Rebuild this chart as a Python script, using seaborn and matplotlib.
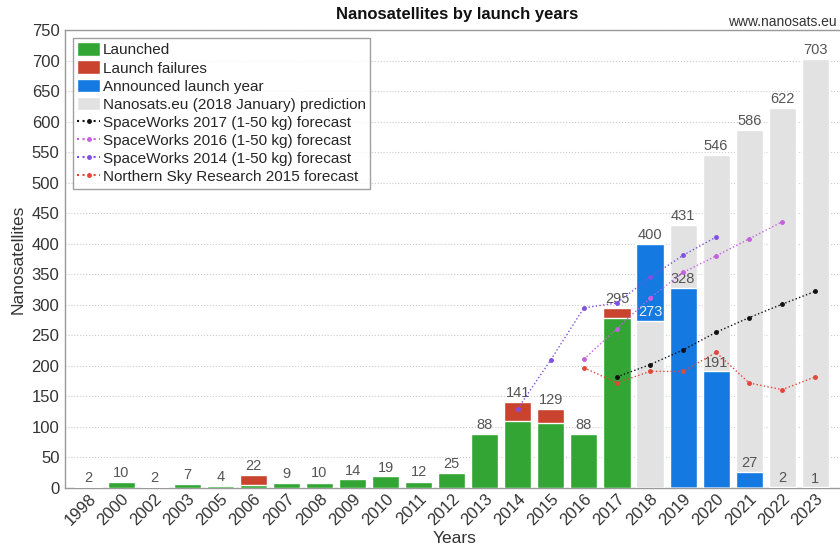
import numpy as np
import matplotlib
matplotlib.use("Agg")
import matplotlib.pyplot as plt
import seaborn as sns
from matplotlib.patches import Patch
from matplotlib.lines import Line2D

# ---- data ----
years = ['1998', '2000', '2002', '2003', '2005', '2006', '2007', '2008', '2009',
         '2010', '2011', '2012', '2013', '2014', '2015', '2016', '2017', '2018',
         '2019', '2020', '2021', '2022', '2023']
launched = [2, 10, 2, 7, 4, 5, 9, 8, 14, 19, 10, 25, 88, 110, 107, 88, 278,
            0, 0, 0, 0, 0, 0]
failures = [0, 0, 0, 0, 0, 17, 0, 2, 0, 0, 2, 0, 0, 31, 22, 0, 17,
            0, 0, 0, 0, 0, 0]
announced = [0] * 17 + [400, 328, 191, 27, 2, 1]
prediction = [0] * 17 + [273, 431, 546, 586, 622, 703]

sw2017_years = ['2017', '2018', '2019', '2020', '2021', '2022', '2023']
sw2017 = [182, 202, 226, 255, 279, 301, 322]
sw2016_years = ['2016', '2017', '2018', '2019', '2020', '2021', '2022']
sw2016 = [211, 261, 311, 353, 380, 408, 436]
sw2014_years = ['2014', '2015', '2016', '2017', '2018', '2019', '2020']
sw2014 = [130, 210, 295, 303, 345, 381, 411]
nsr_years = ['2016', '2017', '2018', '2019', '2020', '2021', '2022', '2023']
nsr2015 = [197, 172, 191, 191, 222, 172, 161, 182]

GREEN = '#33a534'
RED = '#c9432f'
BLUE = '#1479e0'
GREY = '#e2e2e2'

sns.set_style('white')
plt.rcParams['font.family'] = ['Liberation Sans', 'DejaVu Sans']

fig = plt.figure(figsize=(8.4, 5.54), dpi=100)
ax = fig.add_axes([65 / 840, 66 / 554, 780 / 840, 458 / 554])

total = np.array(launched) + np.array(failures)
pred = np.array(prediction, dtype=float)
ann = np.array(announced, dtype=float)
w = 0.82

# grey prediction bars behind, blue announced, then grey again where it is the smaller one
sns.barplot(x=years, y=prediction, color=GREY, saturation=1, width=w, ax=ax, zorder=2)
sns.barplot(x=years, y=announced, color=BLUE, saturation=1, width=w, ax=ax, zorder=3)
front_pred = np.where(pred < ann, pred, 0)
sns.barplot(x=years, y=front_pred, color=GREY, saturation=1, width=w, ax=ax, zorder=4)
# stacked launched + failures
sns.barplot(x=years, y=total, color=RED, saturation=1, width=w, ax=ax, zorder=3)
sns.barplot(x=years, y=launched, color=GREEN, saturation=1, width=w, ax=ax, zorder=4)

pos = {y: i for i, y in enumerate(years)}

# value labels
lab_kw = dict(ha='center', va='bottom', fontsize=10.5, color='#555555', zorder=6)
for i, t in enumerate(total):
    if t > 0:
        ax.text(i, t + 3, str(t), **lab_kw)
for i, (p, a) in enumerate(zip(prediction, announced)):
    if p > 0:
        c = '#eeeeee' if p < a else '#555555'
        ax.text(i, p + 3, str(p), ha='center', va='bottom', fontsize=10.5, color=c, zorder=6)
    if a > 0:
        ax.text(i, a + 3, str(a), **lab_kw)

# forecast lines
def forecast(yrs, vals, color):
    ax.plot([pos[y] for y in yrs], vals, linestyle=':', color=color, lw=1,
            marker='o', markersize=2.5, zorder=7)

forecast(sw2017_years, sw2017, '#111111')
forecast(sw2016_years, sw2016, '#c560e0')
forecast(sw2014_years, sw2014, '#8050e0')
forecast(nsr_years, nsr2015, '#e0483a')

ax.set_xlim(-0.7, 22.9)
ax.set_ylim(0, 750)
ax.set_yticks(np.arange(0, 751, 50))
ax.yaxis.grid(True, linestyle=':', color='#cccccc', lw=0.8, zorder=0)
ax.set_axisbelow(True)
ax.tick_params(axis='y', labelsize=12, colors='#333333', length=0, pad=4)
ax.tick_params(axis='x', labelsize=12, colors='#333333', length=0, pad=2)
plt.setp(ax.get_xticklabels(), rotation=45, ha='right', rotation_mode='anchor')
for s in ax.spines.values():
    s.set_color('#999999')
    s.set_linewidth(1)
ax.spines['right'].set_visible(False)

ax.set_xlabel('Years', fontsize=12.5, color='#333333', labelpad=2)
ax.set_ylabel('Nanosatellites', fontsize=12.5, color='#333333', labelpad=4)
fig.text(457 / 840, 1 - 15 / 554, 'Nanosatellites by launch years', ha='center',
         va='center', fontsize=12, fontweight='bold', color='#111111')
fig.text(728 / 840, 1 - 22 / 554, 'www.nanosats.eu', ha='left', va='center',
         fontsize=10, color='#333333')

handles = [
    Patch(facecolor=GREEN, label='Launched'),
    Patch(facecolor=RED, label='Launch failures'),
    Patch(facecolor=BLUE, label='Announced launch year'),
    Patch(facecolor=GREY, label='Nanosats.eu (2018 January) prediction'),
    Line2D([], [], ls=':', color='#111111', marker='o', ms=2.5, label='SpaceWorks 2017 (1-50 kg) forecast'),
    Line2D([], [], ls=':', color='#c560e0', marker='o', ms=2.5, label='SpaceWorks 2016 (1-50 kg) forecast'),
    Line2D([], [], ls=':', color='#8050e0', marker='o', ms=2.5, label='SpaceWorks 2014 (1-50 kg) forecast'),
    Line2D([], [], ls=':', color='#e0483a', marker='o', ms=2.5, label='Northern Sky Research 2015 forecast'),
]
leg = ax.legend(handles=handles, loc='upper left', bbox_to_anchor=(0.01, 0.983),
                fontsize=11, frameon=True, fancybox=False, handlelength=1.5,
                handleheight=1.0, handletextpad=0.15, labelspacing=0.2,
                borderpad=0.3, borderaxespad=0)
leg.get_frame().set_edgecolor('#888888')
leg.get_frame().set_linewidth(1)
leg.set_zorder(10)

fig.savefig('out.png', dpi=100)
